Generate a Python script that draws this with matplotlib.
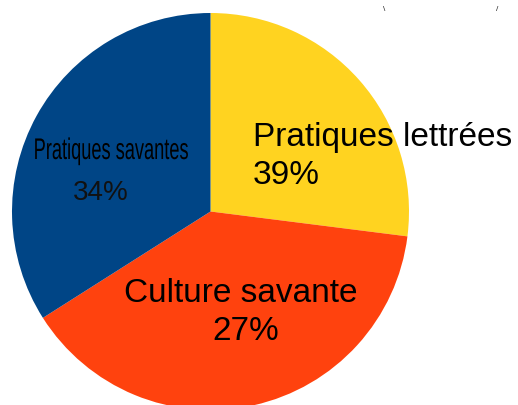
import matplotlib
matplotlib.use("Agg")
import matplotlib.pyplot as plt
from matplotlib.patheffects import AbstractPathEffect
from matplotlib.transforms import Affine2D

# Data (slice sizes; label texts as printed)
categories = ["Pratiques lettrées", "Culture savante", "Pratiques savantes"]
values = [27, 39, 34]
pct_labels = ["39%", "27%", "34%"]
colors = ["#FFD320", "#FF420E", "#004586"]


class HStretch(AbstractPathEffect):
    """Squeeze the glyphs horizontally about their left edge."""
    def __init__(self, sx):
        super().__init__()
        self.sx = sx

    def draw_path(self, renderer, gc, tpath, affine, rgbFace=None):
        ext = affine.transform_path(tpath).get_extents()
        c = ext.x0
        t = affine + Affine2D().translate(-c, 0).scale(self.sx, 1).translate(c, 0)
        renderer.draw_path(gc, tpath, t, rgbFace)


W, H = 518, 405
fig = plt.figure(figsize=(W / 100, H / 100), dpi=100)
ax = fig.add_axes([0, 0, 1, 1])
cx, cy, r = 210.5, H - 211.5, 198.5
ax.pie(values, colors=colors, startangle=90, counterclock=False,
       center=(cx, cy), radius=r, wedgeprops=dict(linewidth=0))
ax.set_xlim(0, W)
ax.set_ylim(0, H)
ax.set_aspect("equal")
ax.axis("off")

font = "Liberation Sans"
# Pratiques lettrées
ax.text(253, H - 146, categories[0], fontsize=24, family=font, ha="left", va="baseline")
ax.text(253, H - 184, pct_labels[0], fontsize=24, family=font, ha="left", va="baseline")
# Culture savante
ax.text(240.5, H - 302, categories[1], fontsize=24, family=font, ha="center", va="baseline")
ax.text(246, H - 340, pct_labels[1], fontsize=24, family=font, ha="center", va="baseline")
# Pratiques savantes (condensed)
ax.text(32.7, H - 159, categories[2], fontsize=21.5, family=font,
        ha="left", va="baseline", path_effects=[HStretch(0.61)])
ax.text(101, H - 200, pct_labels[2], fontsize=20, family=font, ha="center", va="baseline",
        color="#111111")

# small fragments at top right
ax.text(384, H - 11, "\\", fontsize=6, family=font, ha="center", va="baseline", color="#222222")
ax.text(497, H - 11, "/", fontsize=6, family=font, ha="center", va="baseline", color="#222222")

fig.savefig("out.png", dpi=100)
